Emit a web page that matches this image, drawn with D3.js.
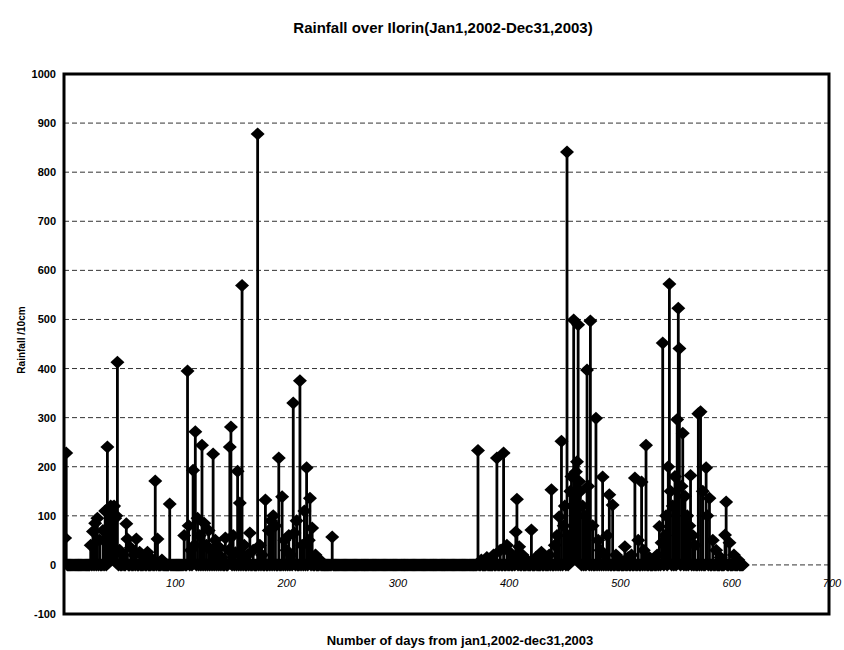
<!DOCTYPE html>
<html>
<head>
<meta charset="utf-8">
<script src="https://cdn.jsdelivr.net/npm/d3@7"></script>
<style>
  html, body { margin: 0; padding: 0; background: #fff; }
  svg { display: block; }
  text { font-family: "Liberation Sans", Arial, sans-serif; fill: #000; }
</style>
</head>
<body>
<script>
// ---------------- DATA ----------------
const chartTitle = "Rainfall over Ilorin(Jan1,2002-Dec31,2003)";
const xTitle = "Number of days from jan1,2002-dec31,2003";
const yTitle = "Rainfall /10cm";

// days covered by the record (every day gets a marker, dry days at 0)
const firstDay = 1;
const lastDay = 610;

// rainy days (day number) and rainfall on those days
const rainDays = [
  1, 2, 24, 26, 28, 30, 32, 35, 37, 39, 40, 41, 42, 43, 44, 45, 46, 47, 48, 50, 53, 56, 57, 60,
  63, 65, 68, 72, 75, 79, 82, 84, 88, 95,
  108, 111, 112, 114, 116, 117, 118, 120, 122, 124, 126, 128, 130, 132, 134, 136, 138, 140, 142, 145,
  148, 149, 150, 152, 154, 156, 158, 160, 162, 165, 167, 170, 174, 176, 178, 181, 184, 186, 188, 190,
  193, 196, 198, 200, 202, 204, 206, 207, 209, 212, 214, 216, 218, 220, 221, 223, 226, 230, 241,
  372, 375, 380, 386, 389, 392, 395, 398, 401, 404, 406, 407, 409, 412, 416, 420, 424, 429, 432, 436,
  438, 441, 443, 445, 447, 449, 450, 452, 454, 455, 456, 457, 458, 459, 460, 461, 462, 463, 464, 466,
  468, 470, 471, 473, 475, 478, 480, 482, 484, 486, 488, 490, 493, 496, 500, 504, 507, 510, 513, 516,
  519, 521, 523, 526, 530, 533, 535, 537, 538, 540, 541, 543, 544, 545, 547, 549, 551, 552, 553, 555,
  556, 558, 560, 562, 563, 565, 567, 570, 572, 574, 577, 578, 580, 583, 586, 590, 594, 595, 598, 602, 606
];
const rainValues = [
  55, 228, 40, 68, 85, 95, 50, 70, 110, 240, 115, 105, 120, 112, 118, 120, 95, 100, 413, 30, 20, 84, 53, 35,
  20, 53, 26, 15, 26, 12, 171, 53, 10, 124,
  60, 395, 80, 30, 193, 40, 271, 95, 60, 244, 85, 40, 70, 30, 226, 50, 20, 35, 15, 55,
  30, 240, 281, 60, 25, 191, 126, 569, 40, 20, 65, 30, 878, 40, 20, 132, 70, 90, 100, 80,
  218, 139, 50, 30, 60, 20, 330, 65, 90, 375, 40, 110, 198, 50, 136, 75, 20, 10, 57,
  233, 10, 15, 20, 218, 30, 228, 40, 25, 15, 67, 134, 37, 20, 10, 71, 15, 26, 10, 20,
  153, 40, 60, 98, 252, 80, 120, 841, 60, 150, 180, 120, 499, 140, 190, 210, 489, 170, 150, 120,
  100, 397, 160, 497, 80, 299, 50, 30, 179, 20, 60, 143, 122, 20, 10, 37, 15, 20, 177, 50,
  169, 30, 244, 15, 10, 20, 78, 45, 452, 60, 100, 200, 572, 150, 120, 180, 296, 523, 441, 160,
  268, 140, 100, 80, 182, 60, 40, 308, 312, 150, 198, 100, 136, 50, 30, 15, 61, 128, 45, 20, 10
];

const yTicks = [-100, 0, 100, 200, 300, 400, 500, 600, 700, 800, 900, 1000];
const xTicks = [100, 200, 300, 400, 500, 600, 700];
const gridValues = [0, 100, 200, 300, 400, 500, 600, 700, 800, 900];

// ---------------- CHART ----------------
const W = 844, H = 650;
const plot = { left: 64, right: 829, top: 74, bottom: 614 };

const x = d3.scaleLinear().domain([0, 700]).range([64, 843]);
const y = d3.scaleLinear().domain([-100, 1000]).range([plot.bottom, plot.top]);

const rainByDay = new Map(rainDays.map((d, i) => [d, rainValues[i]]));
const series = d3.range(firstDay, lastDay + 1).map(d => ({ day: d, value: rainByDay.has(d) ? rainByDay.get(d) : 0 }));

const svg = d3.select("body").append("svg").attr("width", W).attr("height", H);
svg.append("rect").attr("width", W).attr("height", H).attr("fill", "#fff");

svg.append("text")
  .attr("x", 443).attr("y", 33)
  .attr("text-anchor", "middle")
  .attr("font-size", 15).attr("font-weight", "bold")
  .text(chartTitle);

const defs = svg.append("defs");
defs.append("clipPath").attr("id", "clip")
  .append("rect").attr("x", plot.left).attr("y", plot.top)
  .attr("width", plot.right - plot.left).attr("height", plot.bottom - plot.top);

const g = svg.append("g").attr("clip-path", "url(#clip)");

// gridlines
g.selectAll("line.grid").data(gridValues).join("line")
  .attr("class", "grid")
  .attr("x1", plot.left).attr("x2", plot.right)
  .attr("y1", d => y(d)).attr("y2", d => y(d))
  .attr("stroke", "#333").attr("stroke-width", 1)
  .attr("stroke-dasharray", "5,3");

// stems
g.selectAll("line.stem").data(series.filter(d => d.value > 0)).join("line")
  .attr("class", "stem")
  .attr("x1", d => x(d.day)).attr("x2", d => x(d.day))
  .attr("y1", y(0)).attr("y2", d => y(d.value))
  .attr("stroke", "#000").attr("stroke-width", 2.8);

// diamond markers
const diamond = "M0,-6.5L7,0L0,6.5L-7,0Z";
g.selectAll("path.mk").data(series).join("path")
  .attr("class", "mk")
  .attr("d", diamond)
  .attr("transform", d => `translate(${x(d.day)},${y(d.value)})`)
  .attr("fill", "#000");

// plot border
svg.append("rect")
  .attr("x", plot.left).attr("y", plot.top)
  .attr("width", plot.right - plot.left).attr("height", plot.bottom - plot.top)
  .attr("fill", "none").attr("stroke", "#000").attr("stroke-width", 3);

// y tick labels
svg.selectAll("text.yt").data(yTicks).join("text")
  .attr("class", "yt")
  .attr("x", 56).attr("y", d => y(d) + 4)
  .attr("text-anchor", "end")
  .attr("font-size", 11).attr("font-weight", "bold")
  .text(d => d);

// x tick labels (the last one sits at the right edge, kept fully visible)
svg.selectAll("text.xt").data(xTicks).join("text")
  .attr("class", "xt")
  .attr("x", d => Math.min(x(d), 832)).attr("y", 587)
  .attr("text-anchor", "middle")
  .attr("font-size", 11).attr("font-style", "italic")
  .text(d => d);

// axis titles
svg.append("text")
  .attr("x", 460).attr("y", 645)
  .attr("text-anchor", "middle")
  .attr("font-size", 13).attr("font-weight", "bold")
  .text(xTitle);

svg.append("text")
  .attr("transform", "translate(25,340) rotate(-90)")
  .attr("text-anchor", "middle")
  .attr("font-size", 10).attr("font-weight", "bold")
  .text(yTitle);
</script>
</body>
</html>
